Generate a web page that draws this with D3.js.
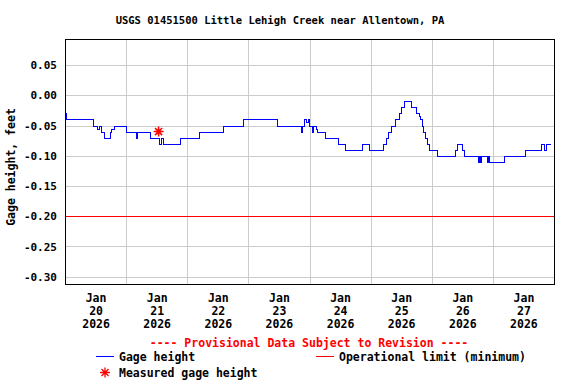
<!DOCTYPE html>
<html>
<head>
<meta charset="utf-8">
<script src="https://cdn.jsdelivr.net/npm/d3@7"></script>
<style>
  body { margin: 0; background: #fff; }
  text { font-family: "DejaVu Sans Mono", monospace; font-weight: bold; }
</style>
</head>
<body>
<div id="chart"></div>
<script>
// gage height readings, step changes (value holds until next time)
let gageTimes = [
  "2026-01-20 00:00", "2026-01-20 00:30", "2026-01-20 11:00", "2026-01-20 12:45",
  "2026-01-20 13:15", "2026-01-20 14:00", "2026-01-20 15:30", "2026-01-20 17:30",
  "2026-01-20 18:15", "2026-01-20 19:15", "2026-01-21 00:00", "2026-01-21 03:45",
  "2026-01-21 04:15", "2026-01-21 09:30", "2026-01-21 13:00", "2026-01-21 13:45",
  "2026-01-21 14:30", "2026-01-21 21:00", "2026-01-22 04:30", "2026-01-22 14:00",
  "2026-01-22 22:00", "2026-01-23 11:15", "2026-01-23 20:45", "2026-01-23 21:15",
  "2026-01-23 21:45", "2026-01-23 22:30", "2026-01-23 23:15", "2026-01-23 23:45",
  "2026-01-24 01:00", "2026-01-24 01:30", "2026-01-24 02:30", "2026-01-24 03:00",
  "2026-01-24 06:00", "2026-01-24 11:15", "2026-01-24 13:45", "2026-01-24 20:30",
  "2026-01-24 23:30", "2026-01-25 04:45", "2026-01-25 06:00", "2026-01-25 06:45",
  "2026-01-25 08:00", "2026-01-25 09:30", "2026-01-25 11:00", "2026-01-25 12:00",
  "2026-01-25 13:15", "2026-01-25 16:00", "2026-01-25 17:45", "2026-01-25 19:00",
  "2026-01-25 19:30", "2026-01-25 20:15", "2026-01-25 20:45", "2026-01-25 21:15",
  "2026-01-25 22:00", "2026-01-25 22:15", "2026-01-25 23:00", "2026-01-26 02:00",
  "2026-01-26 09:00", "2026-01-26 09:45", "2026-01-26 11:45", "2026-01-26 12:30",
  "2026-01-26 18:15", "2026-01-26 18:30", "2026-01-26 19:00", "2026-01-26 19:30",
  "2026-01-26 21:30", "2026-01-26 22:00", "2026-01-26 22:30", "2026-01-27 04:15",
  "2026-01-27 12:45", "2026-01-27 18:45", "2026-01-27 20:15", "2026-01-27 20:45",
  "2026-01-27 22:15"
]
let gageValues = [
  -0.03, -0.04, -0.05, -0.055,
  -0.05, -0.06, -0.07, -0.06,
  -0.055, -0.05, -0.06, -0.07,
  -0.06, -0.07, -0.08, -0.07,
  -0.08, -0.07, -0.06, -0.05,
  -0.04, -0.05, -0.06, -0.05,
  -0.04, -0.045, -0.04, -0.05,
  -0.06, -0.05, -0.055, -0.06,
  -0.07, -0.08, -0.09, -0.08,
  -0.09, -0.08, -0.07, -0.06,
  -0.05, -0.04, -0.03, -0.02,
  -0.01, -0.02, -0.03, -0.035,
  -0.04, -0.05, -0.06, -0.07,
  -0.075, -0.08, -0.09, -0.10,
  -0.09, -0.08, -0.09, -0.10,
  -0.11, -0.10, -0.11, -0.10,
  -0.11, -0.10, -0.11, -0.10,
  -0.09, -0.08, -0.09, -0.08,
  -0.08
]
let measuredTimes = ["2026-01-21 12:45"]
let measuredValues = [-0.06]
let operationalLimit = -0.20
let yTicks = [0.05, 0.00, -0.05, -0.10, -0.15, -0.20, -0.25, -0.30]
let tickDays = ["2026-01-20", "2026-01-21", "2026-01-22", "2026-01-23",
  "2026-01-24", "2026-01-25", "2026-01-26", "2026-01-27"]

let margin = { top: 39, right: 22, bottom: 100, left: 65 }
let dims = {
  width: 576 - margin.left - margin.right,
  height: 384 - margin.top - margin.bottom
}
let parseTime = d3.timeParse("%Y-%m-%d %H:%M")
let parseDay = d3.timeParse("%Y-%m-%d")

let gageData = gageTimes.map((t, i) => ({ time: parseTime(t), value: gageValues[i] }))
let measuredData = measuredTimes.map((t, i) => ({ time: parseTime(t), value: measuredValues[i] }))
let days = tickDays.map(parseDay)

const svg = d3.select("#chart")
  .append("svg")
  .attr("width", 576)
  .attr("height", 384)

const g = svg.append("g")
  .attr("transform", `translate(${margin.left},${margin.top})`)

let x = d3.scaleTime()
  .domain([parseDay("2026-01-20"), parseDay("2026-01-28")])
  .range([0, dims.width])
let y = d3.scaleLinear()
  .domain([-0.312, 0.093])
  .range([dims.height, 0])

// grid
g.append("g")
  .selectAll("line")
  .data(yTicks)
  .join("line")
  .attr("x1", 0).attr("x2", dims.width)
  .attr("y1", d => Math.round(y(d)) + 0.5).attr("y2", d => Math.round(y(d)) + 0.5)
  .attr("stroke", "#cccccc")
g.append("g")
  .selectAll("line")
  .data(days.slice(1))
  .join("line")
  .attr("x1", d => Math.round(x(d)) + 0.5).attr("x2", d => Math.round(x(d)) + 0.5)
  .attr("y1", 0).attr("y2", dims.height)
  .attr("stroke", "#cccccc")

// operational limit
g.append("line")
  .attr("x1", 0).attr("x2", dims.width)
  .attr("y1", Math.round(y(operationalLimit)) + 0.5)
  .attr("y2", Math.round(y(operationalLimit)) + 0.5)
  .attr("stroke", "#ff0000")

// gage height
let line = d3.line()
  .x(d => Math.round(x(d.time)) + 0.5)
  .y(d => Math.round(y(d.value)) + 0.5)
  .curve(d3.curveStepAfter)
g.append("path")
  .datum(gageData)
  .attr("d", line)
  .attr("fill", "none")
  .attr("stroke", "#0000ff")
  .attr("stroke-width", 1)
  .attr("shape-rendering", "crispEdges")

// measured star
function star(r) {
  let p = ""
  for (let i = 0; i < 4; i++) {
    let a = i * Math.PI / 4
    p += `M${-r * Math.cos(a)},${-r * Math.sin(a)}L${r * Math.cos(a)},${r * Math.sin(a)}`
  }
  return p
}
g.selectAll(".star")
  .data(measuredData)
  .join("path")
  .attr("class", "star")
  .attr("transform", d => `translate(${x(d.time)},${y(d.value)})`)
  .attr("d", star(5))
  .attr("stroke", "#ff0000")
  .attr("stroke-width", 1.6)

// frame
g.append("rect")
  .attr("x", 0.5).attr("y", 0.5)
  .attr("width", dims.width).attr("height", dims.height)
  .attr("fill", "none")
  .attr("stroke", "#000")

// y axis labels
let yAxis = g.append("g")
  .call(d3.axisLeft(y).tickValues(yTicks).tickSize(0).tickPadding(8).tickFormat(d3.format(".2f")))
yAxis.select(".domain").remove()
yAxis.selectAll("text")
  .attr("font-family", "DejaVu Sans Mono")
  .attr("font-size", 11)
  .attr("fill", "#000")
  .text(d => d3.format(".2f")(d).replace("−", "-"))

// x axis labels
let xAxis = g.append("g")
  .attr("transform", `translate(0,${dims.height})`)
  .call(d3.axisBottom(x).tickValues(days.map(d => d3.timeHour.offset(d, 12))).tickSize(0).tickFormat(""))
xAxis.select(".domain").remove()
xAxis.selectAll(".tick text").remove()
let tl = xAxis.selectAll(".tick")
  .append("text")
  .attr("fill", "#000")
  .attr("font-size", 11.5)
  .attr("text-anchor", "middle")
tl.append("tspan").attr("x", 0).attr("y", 18).text(d => d3.timeFormat("%b")(d))
tl.append("tspan").attr("x", 0).attr("y", 31).text(d => d3.timeFormat("%d")(d))
tl.append("tspan").attr("x", 0).attr("y", 44).text(d => d3.timeFormat("%Y")(d))

// title
svg.append("text")
  .attr("x", 280).attr("y", 24)
  .attr("text-anchor", "middle")
  .attr("font-size", 10.5)
  .text("USGS 01451500 Little Lehigh Creek near Allentown, PA")

svg.append("text")
  .attr("transform", "translate(15,167) rotate(-90)")
  .attr("text-anchor", "middle")
  .attr("font-size", 11.5)
  .text("Gage height, feet")

// legend
svg.append("text")
  .attr("x", 309).attr("y", 347)
  .attr("text-anchor", "middle")
  .attr("font-size", 11.5)
  .attr("fill", "#ff0000")
  .text("---- Provisional Data Subject to Revision ----")

svg.append("line")
  .attr("x1", 96).attr("x2", 114).attr("y1", 356.5).attr("y2", 356.5)
  .attr("stroke", "#0000ff")
svg.append("text")
  .attr("x", 119).attr("y", 361)
  .attr("font-size", 11.5)
  .text("Gage height")
svg.append("line")
  .attr("x1", 316).attr("x2", 334).attr("y1", 356.5).attr("y2", 356.5)
  .attr("stroke", "#ff0000")
svg.append("text")
  .attr("x", 339).attr("y", 361)
  .attr("font-size", 11.5)
  .text("Operational limit (minimum)")
svg.append("path")
  .attr("transform", "translate(105,372.5)")
  .attr("d", star(5))
  .attr("stroke", "#ff0000")
  .attr("stroke-width", 1.3)
svg.append("text")
  .attr("x", 119).attr("y", 377)
  .attr("font-size", 11.5)
  .text("Measured gage height")
</script>
</body>
</html>
